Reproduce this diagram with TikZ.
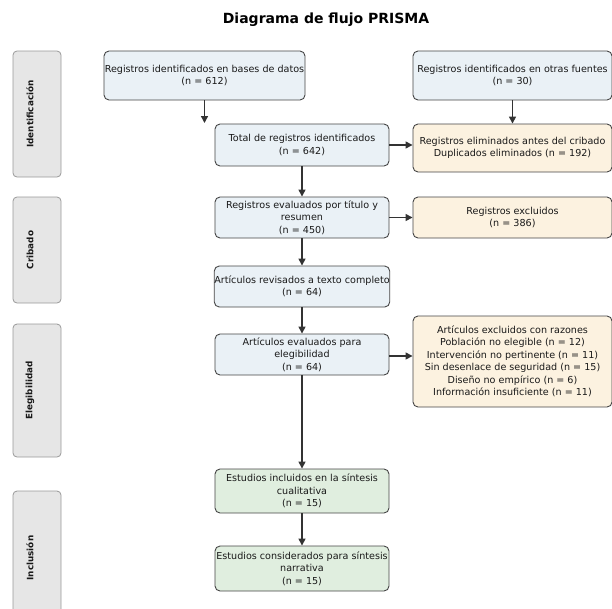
\documentclass[tikz,border=0pt]{standalone}
\usepackage{fontspec}
\setmainfont{DejaVu Sans}
\usetikzlibrary{arrows.meta}
\definecolor{idfill}{HTML}{EAF1F6}
\definecolor{exfill}{HTML}{FCF2E0}
\definecolor{infill}{HTML}{E0EEDF}
\definecolor{phfill}{HTML}{E6E6E6}
\definecolor{edge}{HTML}{454545}

\begin{document}
\begin{tikzpicture}[x=1pt,y=-1pt,
    box/.style={draw=edge, line width=0.9pt, rounded corners=5pt, align=center,
        inner sep=0pt, text=black!90, font=\fontsize{9.6}{12.5}\selectfont},
    phase/.style={draw=black!40, fill=phfill, line width=0.8pt, rounded corners=4pt,
        minimum width=48},
    phaselabel/.style={rotate=90, text=black!90, font=\fontsize{8.8}{10}\selectfont\bfseries},
    flow/.style={draw=black!80, line width=1.4pt, -{Triangle[length=7pt,width=7pt]}}]
    \useasboundingbox (0,0) rectangle (612,608);
    \node [font=\fontsize{14}{16}\selectfont\bfseries] (title) at (326,20) {Diagrama de flujo PRISMA};

    %Phases
    \node [phase, minimum height=126] (fase1) at (37,114) {};
    \node [phaselabel] (lab1) at (30,114) {Identificación};
    \node [phase, minimum height=106] (fase2) at (37,250) {};
    \node [phaselabel] (lab2) at (30,250) {Cribado};
    \node [phase, minimum height=133] (fase3) at (37,390.5) {};
    \node [phaselabel] (lab3) at (30,390.5) {Elegibilidad};
    \node [phase, minimum height=134] (fase4) at (37,558) {};
    \node [phaselabel] (lab4) at (30,558) {Inclusión};

    %Identification
    \node [box, fill=idfill, minimum width=201, minimum height=49] (bases) at (204.5,75.5)
        {Registros identificados en bases de datos\\(n = 612)};
    \node [box, fill=idfill, minimum width=199, minimum height=49] (otras) at (512.5,75.5)
        {Registros identificados en otras fuentes\\(n = 30)};
    \node [box, fill=idfill, minimum width=174, minimum height=42] (total) at (302,145)
        {Total de registros identificados\\(n = 642)};
    \node [box, fill=exfill, minimum width=199, minimum height=48] (duplic) at (512.5,148)
        {Registros eliminados antes del cribado\\Duplicados eliminados (n = 192)};
    \coordinate (basesend) at (204.5,123);

    %Screening
    \node [box, fill=idfill, minimum width=174, minimum height=41] (cribado) at (302,217.5)
        {Registros evaluados por título y\\resumen\\(n = 450)};
    \node [box, fill=exfill, minimum width=199, minimum height=41] (excl) at (512.5,217.5)
        {Registros excluidos\\(n = 386)};
    \node [box, fill=idfill, minimum width=174, minimum height=41] (texto) at (302,286.5)
        {Artículos revisados a texto completo\\(n = 64)};

    %Eligibility
    \node [box, fill=idfill, minimum width=174, minimum height=41] (eleg) at (302,354.5)
        {Artículos evaluados para\\elegibilidad\\(n = 64)};
    \node [box, fill=exfill, minimum width=199, minimum height=91] (razones) at (512.5,361.5)
        {Artículos excluidos con razones\\Población no elegible (n = 12)\\Intervención no pertinente (n = 11)\\Sin desenlace de seguridad (n = 15)\\Diseño no empírico (n = 6)\\Información insuficiente (n = 11)};

    %Inclusion
    \node [box, fill=infill, minimum width=174, minimum height=44] (cualit) at (302,491)
        {Estudios incluidos en la síntesis\\cualitativa\\(n = 15)};
    \node [box, fill=infill, minimum width=174, minimum height=45] (narr) at (302,568.5)
        {Estudios considerados para síntesis\\narrativa\\(n = 15)};

    %Arrows
    \draw [flow] (bases) -- (basesend);
    \draw [flow] (otras) -- (duplic);
    \draw [flow] (total.east) -- (total.east -| duplic.west);
    \draw [flow] (total) -- (cribado);
    \draw [flow] (cribado) -- (excl);
    \draw [flow] (cribado) -- (texto);
    \draw [flow] (texto) -- (eleg);
    \draw [flow] ([yshift=-1.5]eleg.east) -- ([yshift=-1.5]eleg.east -| razones.west);
    \draw [flow] (eleg) -- (cualit);
    \draw [flow] (cualit) -- (narr);
\end{tikzpicture}
\end{document}
